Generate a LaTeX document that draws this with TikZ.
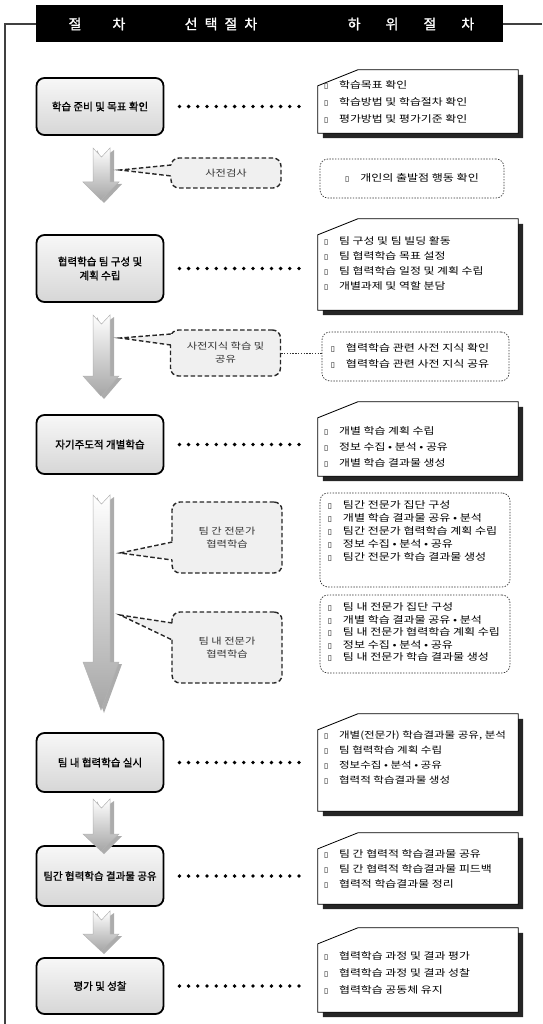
\documentclass[tikz,border=0pt]{standalone}
\usepackage{fontspec}
\setmainfont{Noto Sans CJK KR}
\newfontfamily\kr[FakeStretch=1.25]{Noto Sans CJK KR}
\newfontfamily\krb[FakeBold=1.2]{Noto Sans CJK KR}
\newfontfamily\dv{DejaVu Sans}
\usetikzlibrary{calc}
\newcommand\chk{{\dv\fontsize{7.5}{7.5}\selectfont ▯}\hspace{11pt}}
\newcommand\dnarrow[3]{%
  \fill[gray!65] (97,#1+2) -- (101.5,#1+11) -- (114,#1+2) -- (114,#2+2) -- (122,#2+2) -- (104,#3+3) -- (86,#2+2) -- (97,#2+2) -- cycle;
  \draw[gray!60, line width=0.5pt, top color=white, bottom color=gray!70] (93,#1) -- (101.5,#1+9) -- (110,#1) -- (110,#2) -- (119,#2) -- (101,#3) -- (83,#2) -- (93,#2) -- cycle;
}
\newcommand\chambox[1]{%
  \fill[black!85] ($(#1.north west)+(5,21)$) -- ($(#1.north west)+(45,5)$) -- ($(#1.north east)+(5,5)$) -- ($(#1.south east)+(5,5)$) -- ($(#1.south west)+(5,5)$) -- cycle;
  \filldraw[fill=white, draw=black, line width=0.8pt] ($(#1.north west)+(0,16)$) -- ($(#1.north west)+(40,0)$) -- (#1.north east) -- (#1.south east) -- (#1.south west) -- cycle;
}
\begin{document}
\begin{tikzpicture}[x=1pt,y=-1pt,
  mainbox/.style={draw=black, line width=1.8pt, rounded corners=8pt, top color=gray!6, bottom color=gray!32, minimum width=127pt, align=center, font=\krb\fontsize{10.5}{14}\selectfont, inner sep=2pt},
  subarea/.style={minimum width=200pt, inner sep=0pt},
  subtext/.style={anchor=west, align=left, inner sep=0pt, font=\kr\fontsize{9.5}{#1}\selectfont},
  dtext/.style={anchor=west, align=left, inner sep=0pt, font=\kr\fontsize{9.6}{#1}\selectfont},
  callout/.style={draw=black!85, line width=1.4pt, dash pattern=on 4.5pt off 2.5pt, rounded corners=8pt, fill=gray!12, align=center, font=\kr\fontsize{9}{13}\selectfont, text=black!80, minimum width=110pt, inner sep=1pt},
  dbox/.style={draw=black!80, line width=0.7pt, dash pattern=on 1.4pt off 1.4pt, rounded corners=8pt, inner sep=0pt},
  dotline/.style={line width=3.8pt, line cap=round, dash pattern=on 0pt off 9.2pt, black, shorten <=15pt, shorten >=13pt},
  link/.style={line width=0.7pt, dash pattern=on 1.4pt off 1.4pt, black!80},
  calldash/.style={draw=black!85, line width=1.4pt, dash pattern=on 4.5pt off 2.5pt},
  hdr/.style={text=white, font=\krb\fontsize{14}{14}\selectfont, inner sep=0pt}]
\useasboundingbox (0,0) rectangle (542,1024);

% header and frame
\node[fill=black, minimum width=467pt, minimum height=37pt, inner sep=0pt] (H) at (269.5,24) {};
\node[hdr] (h1) at (97,24) {절\hspace{31pt}차};
\node[hdr] (h2) at (221,24) {선\hspace{7pt}택\hspace{7pt}절\hspace{7pt}차};
\node[hdr] (h3) at (411,24) {하\hspace{25pt}위\hspace{25pt}절\hspace{25pt}차};
\coordinate (fb) at (5,1024);
\coordinate (fr) at (542,24);
\draw[black!75, line width=1.6pt] (fb) -- (fb |- H.west) -- (H.west);
\draw[black!75, line width=1.6pt] (H.east) -- (fr);

% main boxes
\node[mainbox, minimum height=57pt] (B1) at (100,106.5) {학습 준비 및 목표 확인};
\node[mainbox, minimum height=67pt] (B2) at (100,268.5) {협력학습 팀 구성 및\\계획 수립};
\node[mainbox, minimum height=59pt] (B3) at (100,444.5) {자기주도적 개별학습};
\node[mainbox, minimum height=59pt] (B4) at (100,762.5) {팀 내 협력학습 실시};
\node[mainbox, minimum height=60pt] (B5) at (100,876) {팀간 협력학습 결과물 공유};
\node[mainbox, minimum height=56pt] (B6) at (100,986) {평가 및 성찰};

% arrows
\dnarrow{148}{182}{200}
\dnarrow{315}{376}{396}
\dnarrow{495}{662}{710}
\dnarrow{799}{834}{851}
\dnarrow{911}{934}{951}

% sub boxes (solid)
\node[subarea, minimum height=63pt] (S1) at (418,101.5) {};
\node[subarea, minimum height=91pt] (S2) at (418,264.5) {};
\node[subarea, minimum height=74pt] (S3) at (418,439) {};
\node[subarea, minimum height=97pt] (S4) at (418,762.5) {};
\node[subarea, minimum height=71pt] (S5) at (418,868.5) {};
\node[subarea, minimum height=84pt] (S6) at (418,970) {};
\chambox{S1}\chambox{S2}\chambox{S3}\chambox{S4}\chambox{S5}\chambox{S6}

\node[subtext=17pt] (S1t) at ($(S1.west)+(6,0)$) {\chk 학습목표 확인\\\chk 학습방법 및 학습절차 확인\\\chk 평가방법 및 평가기준 확인};
\node[subtext=15pt] (S2t) at ($(S2.west)+(6,-1)$) {\chk 팀 구성 및 팀 빌딩 활동\\\chk 팀 협력학습 목표 설정\\\chk 팀 협력학습 일정 및 계획 수립\\\chk 개별과제 및 역할 분담};
\node[subtext=16pt] (S3t) at ($(S3.west)+(6,8)$) {\chk 개별 학습 계획 수립\\\chk 정보 수집 • 분석 • 공유\\\chk 개별 학습 결과물 생성};
\node[subtext=15pt, font=\kr\fontsize{9.2}{15}\selectfont] (S4t) at ($(S4.west)+(6,-5)$) {\chk 개별(전문가) 학습결과물 공유, 분석\\\chk 팀 협력학습 계획 수립\\\chk 정보수집 • 분석 • 공유\\\chk 협력적 학습결과물 생성};
\node[subtext=15pt] (S5t) at ($(S5.west)+(6,0)$) {\chk 팀 간 협력적 학습결과물 공유\\\chk 팀 간 협력적 학습결과물 피드백\\\chk 협력적 학습결과물 정리};
\node[subtext=17pt] (S6t) at ($(S6.west)+(6,3)$) {\chk 협력학습 과정 및 결과 평가\\\chk 협력학습 과정 및 결과 성찰\\\chk 협력학습 공동체 유지};

% dotted connectors main -> sub
\draw[dotline] (B1.east) -- (B1.east -| S1.west);
\draw[dotline] (B2.east) -- (B2.east -| S2.west);
\draw[dotline] (B3.east) -- (B3.east -| S3.west);
\draw[dotline] (B4.east) -- (B4.east -| S4.west);
\draw[dotline] (B5.east) -- (B5.east -| S5.west);
\draw[dotline] (B6.east) -- (B6.east -| S6.west);

% callouts
\node[callout, minimum height=30pt] (C1) at (226,173) {사전검사};
\node[callout, minimum height=46pt] (C2) at (225.5,353) {사전지식 학습 및\\공유};
\node[callout, minimum height=71pt] (C3) at (227,537.5) {팀 간 전문가\\협력학습};
\node[callout, minimum height=71pt] (C4) at (227,647.5) {팀 내 전문가\\협력학습};
\coordinate (P1) at (120,170);
\coordinate (P2) at (120,338);
\coordinate (P3) at (120,553);
\coordinate (P4) at (120,615);
\fill[gray!12] (P1) -- ($(C1.west |- P1)+(3,-5)$) -- ($(C1.west |- P1)+(3,6)$) -- cycle;
\draw[calldash] ($(C1.west |- P1)+(1,-5)$) -- (P1) -- ($(C1.west |- P1)+(1,6)$);
\fill[gray!12] (P2) -- ($(C2.west |- P2)+(3,-4)$) -- ($(C2.west |- P2)+(3,7)$) -- cycle;
\draw[calldash] ($(C2.west |- P2)+(1,-4)$) -- (P2) -- ($(C2.west |- P2)+(1,7)$);
\fill[gray!12] (P3) -- ($(C3.west |- P3)+(3,-11)$) -- ($(C3.west |- P3)+(3,7)$) -- cycle;
\draw[calldash] ($(C3.west |- P3)+(1,-11)$) -- (P3) -- ($(C3.west |- P3)+(1,7)$);
\fill[gray!12] (P4) -- ($(C4.west |- P4)+(3,8)$) -- ($(C4.west |- P4)+(3,25)$) -- cycle;
\draw[calldash] ($(C4.west |- P4)+(1,8)$) -- (P4) -- ($(C4.west |- P4)+(1,25)$);

% dashed sub boxes
\node[dbox, minimum width=184pt, minimum height=39pt] (D1) at (412,178.5) {};
\node[dbox, minimum width=187pt, minimum height=49pt] (D2) at (415.5,356.5) {};
\node[dbox, minimum width=190pt, minimum height=94pt] (D3) at (415,540) {};
\node[dbox, minimum width=190pt, minimum height=78pt] (D4) at (415,634) {};
\node[inner sep=0pt, font=\kr\fontsize{9.6}{12}\selectfont] (D1t) at (412,178) {\chk 개인의 출발점 행동 확인};
\node[dtext=16pt] (D2t) at ($(D2.west)+(9,-1)$) {\chk 협력학습 관련 사전 지식 확인\\\chk 협력학습 관련 사전 지식 공유};
\node[dtext=13pt] (D3t) at ($(D3.west)+(8,-9)$) {\chk 팀간 전문가 집단 구성\\\chk 개별 학습 결과물 공유 • 분석\\\chk 팀간 전문가 협력학습 계획 수립\\\chk 정보 수집 • 분석 • 공유\\\chk 팀간 전문가 학습 결과물 생성};
\node[dtext=12.5pt] (D4t) at ($(D4.west)+(8,-2)$) {\chk 팀 내 전문가 집단 구성\\\chk 개별 학습 결과물 공유 • 분석\\\chk 팀 내 전문가 협력학습 계획 수립\\\chk 정보 수집 • 분석 • 공유\\\chk 팀 내 전문가 학습 결과물 생성};

% callout -> dashed box links
\draw[link] ($(C1.east)+(0,4)$) -- ($(C1.east)+(0,4)$ -| D1.west);
\draw[link] (C2.east) -- (C2.east -| D2.west);
\draw[link] ($(C3.east)+(0,2)$) -- ($(C3.east)+(0,2)$ -| D3.west);
\draw[link] ($(C4.east)+(0,-4)$) -- ($(C4.east)+(0,-4)$ -| D4.west);
\end{tikzpicture}
\end{document}
